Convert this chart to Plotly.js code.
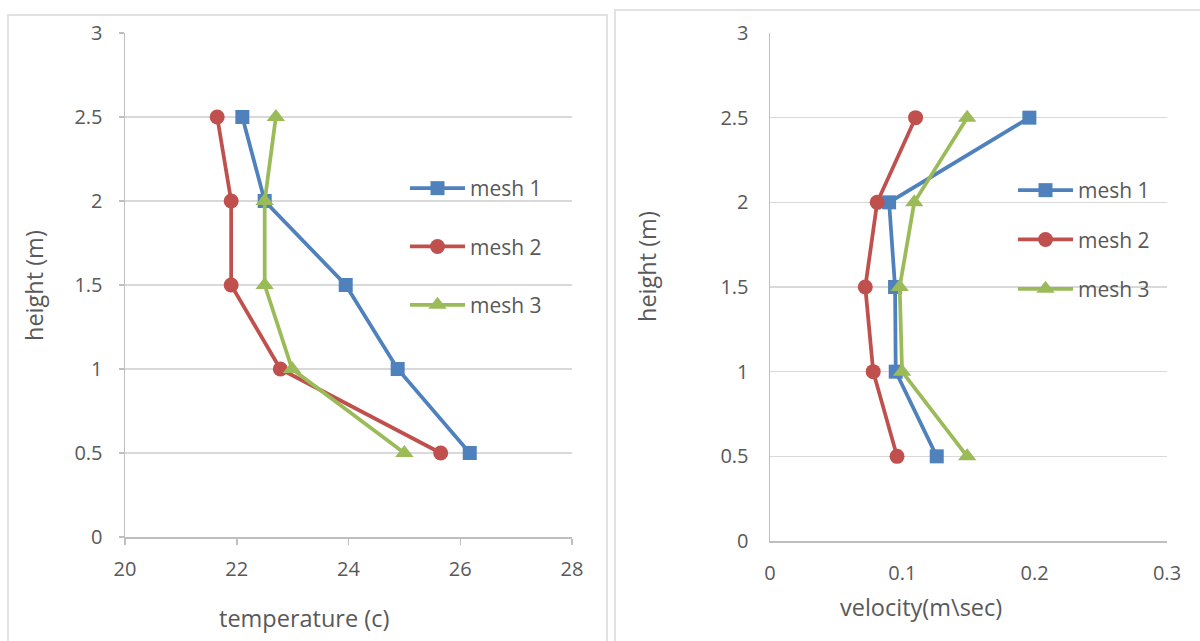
<!DOCTYPE html>
<html>
<head>
<meta charset="utf-8">
<script src="https://cdn.plot.ly/plotly-3.0.1.min.js"></script>
<style>html,body{margin:0;padding:0;background:#fff}#chart{width:1200px;height:641px}</style>
</head>
<body>
<div id="chart"></div>
<script>
// ---- data ----
const heights = [2.5, 2, 1.5, 1, 0.5];
const seriesNames = ['mesh 1', 'mesh 2', 'mesh 3'];
const tempMesh1 = [22.1, 22.5, 23.95, 24.88, 26.17];
const tempMesh2 = [21.65, 21.9, 21.9, 22.78, 25.65];
const tempMesh3 = [22.7, 22.5, 22.5, 22.99, 25.0];
const velMesh1 = [0.196, 0.090, 0.0945, 0.095, 0.126];
const velMesh2 = [0.110, 0.081, 0.072, 0.078, 0.096];
const velMesh3 = [0.149, 0.109, 0.098, 0.0998, 0.149];
const tempTicks = [20, 22, 24, 26, 28];
const velTicks = [0, 0.1, 0.2, 0.3];
const heightTicks = [0, 0.5, 1, 1.5, 2, 2.5, 3];
const heightTickText = ['0', '0.5', '1', '1.5', '2', '2.5', '3'];
const xTitleLeft = 'temperature (c)';
const xTitleRight = 'velocity(m\\sec)';
const yTitle = 'height (m)';

// ---- styles ----
const colors = ['#4F81BD', '#C0504D', '#9BBB59'];
const symbols = ['square', 'circle', 'triangle-up'];
const FONT = 'Open Sans, Noto Sans, sans-serif';
const TXT = '#595959';
const W = 1200, H = 641;
const px = v => v / W;
const py = v => 1 - v / H;

const tempSeries = [tempMesh1, tempMesh2, tempMesh3];
const velSeries = [velMesh1, velMesh2, velMesh3];

const markerSizes = [14, 15, 16];
const traces = [];
tempSeries.forEach((xs, i) => {
  traces.push({
    type: 'scatter', mode: 'lines+markers', x: xs, y: heights, name: seriesNames[i],
    xaxis: 'x', yaxis: 'y', legend: 'legend', legendgroup: 'L' + i,
    line: {color: colors[i], width: 3.75},
    marker: {color: colors[i], symbol: symbols[i], size: markerSizes[i]}
  });
});
velSeries.forEach((xs, i) => {
  traces.push({
    type: 'scatter', mode: 'lines+markers', x: xs, y: heights, name: seriesNames[i],
    xaxis: 'x2', yaxis: 'y2', legend: 'legend2', legendgroup: 'R' + i,
    line: {color: colors[i], width: 3.75},
    marker: {color: colors[i], symbol: symbols[i], size: markerSizes[i]}
  });
});

const axisCommon = {
  showgrid: false, zeroline: false, showline: true, linecolor: '#bfbfbf', linewidth: 1.5,
  tickfont: {family: FONT, size: 20, color: TXT}, fixedrange: true
};

const layout = {
  width: W, height: H,
  margin: {l: 0, r: 0, t: 0, b: 0},
  paper_bgcolor: '#ffffff', plot_bgcolor: '#ffffff',
  showlegend: true,
  font: {family: FONT, color: TXT},
  xaxis: Object.assign({}, axisCommon, {
    domain: [px(125), px(572)], range: [20, 28], tickvals: tempTicks,
    ticks: 'outside', ticklen: 6, tickcolor: '#bfbfbf', tickwidth: 1.5,
    ticklabelstandoff: 7, anchor: 'y'
  }),
  yaxis: Object.assign({}, axisCommon, {
    domain: [py(537), py(33)], range: [0, 3], tickvals: heightTicks, ticktext: heightTickText,
    showgrid: true, gridcolor: '#d9d9d9', gridwidth: 1.5,
    ticks: 'outside', ticklen: 5, tickcolor: '#bfbfbf', tickwidth: 1.5,
    ticklabelstandoff: 12, anchor: 'x'
  }),
  xaxis2: Object.assign({}, axisCommon, {
    domain: [px(770), px(1167)], range: [0, 0.3], tickvals: velTicks,
    ticktext: velTicks.map(String), ticks: '',
    ticklabelstandoff: 13, anchor: 'y2'
  }),
  yaxis2: Object.assign({}, axisCommon, {
    domain: [py(541), py(33)], range: [0, 3], tickvals: heightTicks, ticktext: heightTickText,
    showgrid: true, gridcolor: '#d9d9d9', gridwidth: 1.5,
    ticks: '', ticklabelstandoff: 16, anchor: 'x2'
  }),
  legend: {
    x: px(405), y: py(168), xanchor: 'left', yanchor: 'top',
    bgcolor: 'rgba(0,0,0,0)', borderwidth: 0, tracegroupgap: 28,
    font: {family: FONT, size: 21, color: TXT}, itemwidth: 55
  },
  legend2: {
    x: px(1013), y: py(170), xanchor: 'left', yanchor: 'top',
    bgcolor: 'rgba(0,0,0,0)', borderwidth: 0, tracegroupgap: 19,
    font: {family: FONT, size: 21, color: TXT}, itemwidth: 55
  },
  shapes: [
    {type: 'rect', xref: 'paper', yref: 'paper', x0: px(8), x1: px(607), y0: py(660), y1: py(15),
     line: {color: '#d9d9d9', width: 1.5}, fillcolor: 'rgba(0,0,0,0)', layer: 'below'},
    {type: 'rect', xref: 'paper', yref: 'paper', x0: px(615), x1: px(1210), y0: py(660), y1: py(10),
     line: {color: '#d9d9d9', width: 1.5}, fillcolor: 'rgba(0,0,0,0)', layer: 'below'}
  ],
  annotations: [
    {text: xTitleLeft, xref: 'paper', yref: 'paper', x: px(304), y: py(618), showarrow: false,
     xanchor: 'center', yanchor: 'middle', font: {family: FONT, size: 23.5, color: TXT}},
    {text: xTitleRight, xref: 'paper', yref: 'paper', x: px(921), y: py(607), showarrow: false,
     xanchor: 'center', yanchor: 'middle', font: {family: FONT, size: 23.5, color: TXT}},
    {text: yTitle, xref: 'paper', yref: 'paper', x: px(34), y: py(286), showarrow: false,
     textangle: -90, xanchor: 'center', yanchor: 'middle', font: {family: FONT, size: 23.5, color: TXT}},
    {text: yTitle, xref: 'paper', yref: 'paper', x: px(647), y: py(267), showarrow: false,
     textangle: -90, xanchor: 'center', yanchor: 'middle', font: {family: FONT, size: 23.5, color: TXT}}
  ]
};

Plotly.newPlot('chart', traces, layout, {displayModeBar: false, staticPlot: true});
</script>
</body>
</html>
